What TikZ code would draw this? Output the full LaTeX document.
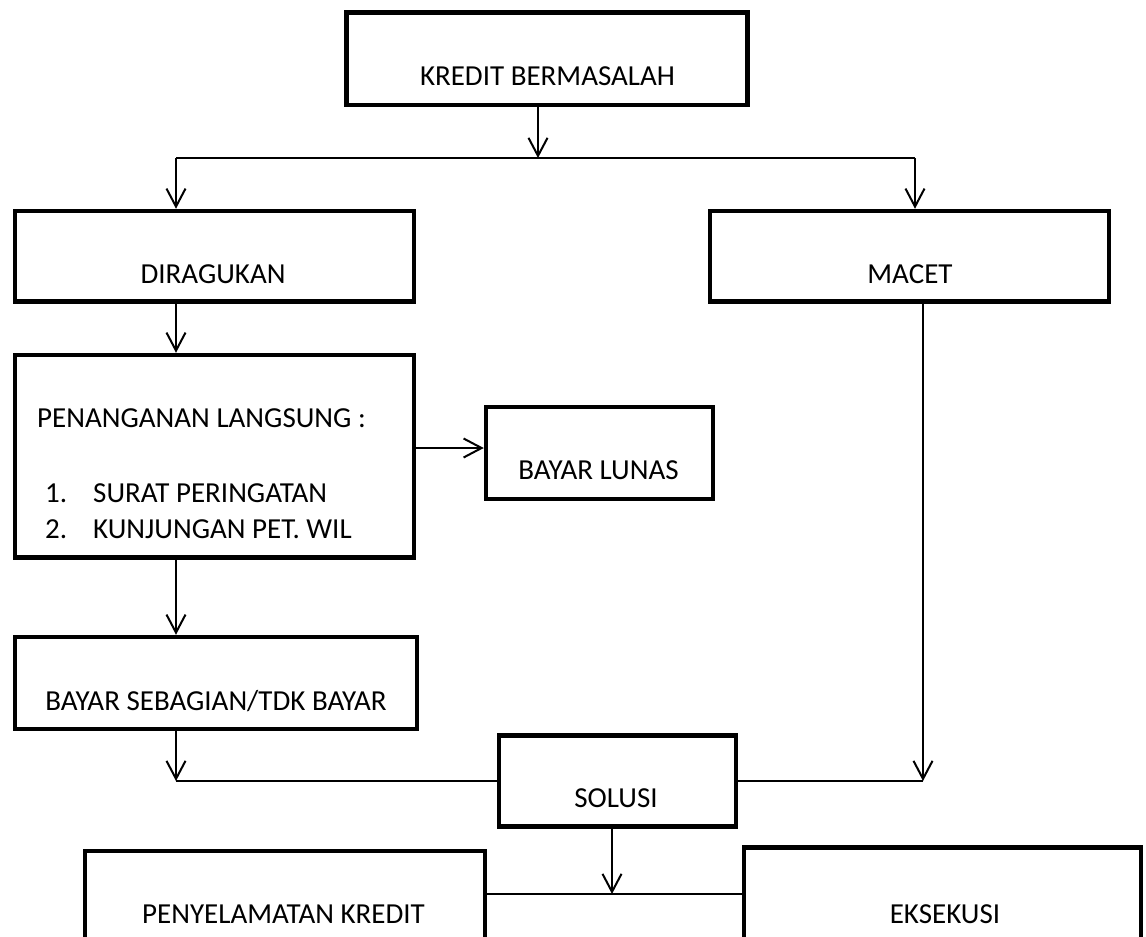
\documentclass[tikz,border=0pt]{standalone}
\usepackage{fontspec}
\setmainfont{Carlito}
\usetikzlibrary{arrows.meta}
\begin{document}
\begin{tikzpicture}[x=1pt,y=-1pt,
  box/.style={draw=black,line width=4.5pt,inner sep=0pt,fill=white},
  conn/.style={draw=black,line width=2pt},
  arr/.style={conn,-{Straight Barb[length=18pt,width=19pt]}},
  txt/.style={inner sep=0pt,anchor=base,font=\fontsize{29}{35}\selectfont},
  txtl/.style={txt,anchor=base west}]
\useasboundingbox (0,0) rectangle (1146,937);
\clip (0,0) rectangle (1146,937);
% boxes
\node[box,minimum width=401pt,minimum height=92.5pt] (K) at (547,58.75) {};
\node[box,minimum width=399pt,minimum height=90.5pt] (D) at (214.5,256.25) {};
\node[box,minimum width=399pt,minimum height=90.5pt] (M) at (909.5,256.25) {};
\node[box,minimum width=399pt,minimum height=202.5pt] (P) at (214.5,456.25) {};
\node[box,minimum width=227pt,minimum height=92pt] (BL) at (599.5,453) {};
\node[box,minimum width=402pt,minimum height=92pt] (BS) at (216,683) {};
\node[box,minimum width=237pt,minimum height=91pt] (S) at (617.5,781) {};
\node[box,minimum width=400pt,minimum height=93pt] (PK) at (285,897.5) {};
\node[box,minimum width=397pt,minimum height=93.5pt] (EK) at (942.5,894.25) {};
% texts
\node[txt] (tK) at (547.5,85) {KREDIT BERMASALAH};
\node[txt] (tD) at (213,283) {DIRAGUKAN};
\node[txt] (tM) at (910,283) {MACET};
\node[txtl] (tP) at (37,427) {PENANGANAN LANGSUNG :};
\node[txtl] (tP1n) at (45,502) {1.};
\node[txtl] (tP1) at (93,502) {SURAT PERINGATAN};
\node[txtl] (tP2n) at (45,538) {2.};
\node[txtl] (tP2) at (93,538) {KUNJUNGAN PET. WIL};
\node[txt] (tBL) at (598.5,479) {BAYAR LUNAS};
\node[txt] (tBS) at (216,710) {BAYAR SEBAGIAN/TDK BAYAR};
\node[txt] (tS) at (616,807) {SOLUSI};
\node[txt] (tPK) at (283.5,923) {PENYELAMATAN KREDIT};
\node[txt] (tEK) at (945,923) {EKSEKUSI};
% helper coordinates
\coordinate (xl) at (176,0);
\coordinate (xk) at (538,0);
\coordinate (xr) at (915,0);
\coordinate (xm) at (923,0);
\coordinate (xs) at (612,0);
\coordinate (yb) at (0,158);
\coordinate (ypl) at (0,448);
\coordinate (yj) at (0,781);
\coordinate (ye) at (0,894);
% connectors
\draw[arr] (K.south -| xk) -- (xk |- yb);
\draw[conn] (xl |- yb) -- (xr |- yb);
\draw[arr] (xl |- yb) -- (xl |- D.north);
\draw[arr] (xr |- yb) -- (xr |- M.north);
\draw[arr] (xl |- D.south) -- (xl |- P.north);
\draw[arr] (P.east |- ypl) -- (BL.west |- ypl);
\draw[arr] (xl |- P.south) -- (xl |- BS.north);
\draw[arr] (xl |- BS.south) -- (xl |- yj);
\draw[conn] (xl |- yj) -- (S.west |- yj);
\draw[arr] (xm |- M.south) -- (xm |- yj);
\draw[conn] (S.east |- yj) -- (xm |- yj);
\draw[arr] (xs |- S.south) -- (xs |- ye);
\draw[conn] (PK.east |- ye) -- (EK.west |- ye);
\end{tikzpicture}
\end{document}
